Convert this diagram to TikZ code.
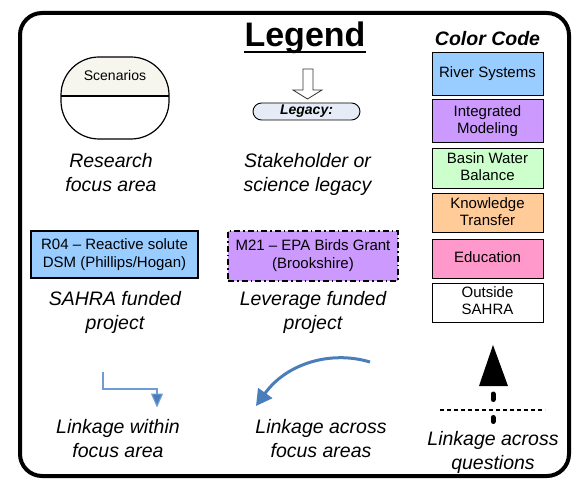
\documentclass[tikz,border=0pt]{standalone}
\usepackage{fontspec}
\setmainfont{Liberation Sans}
\usetikzlibrary{arrows.meta}

\definecolor{riverc}{HTML}{99CCFF}
\definecolor{modelc}{HTML}{CC99FF}
\definecolor{basinc}{HTML}{CCFFCC}
\definecolor{knowc}{HTML}{FFCC99}
\definecolor{educc}{HTML}{FF99CC}
\definecolor{scentop}{HTML}{F6F6EE}
\definecolor{legacyc}{HTML}{E6ECF7}
\definecolor{linkblue}{HTML}{4A7EBB}
\definecolor{linkthin}{HTML}{6F9BD6}

\tikzset{
  caption/.style={inner sep=0pt, align=center, font=\fontsize{19.5}{24}\selectfont\itshape},
  codebox/.style={draw=black, line width=1pt, minimum width=111pt, inner sep=0pt,
                  align=center, font=\fontsize{15}{17}\selectfont},
  projbox/.style={line width=1.2pt, inner sep=0pt, align=center,
                  font=\fontsize{15}{18}\selectfont},
}

\begin{document}
\begin{tikzpicture}[x=1pt,y=-1pt]
\useasboundingbox (0,0) rectangle (584,481);

% outer frame
\draw[line width=4pt, rounded corners=22pt] (20,13) rectangle (569,476);

% title
\node[inner sep=0pt, anchor=base, font=\fontsize{34}{40}\selectfont\bfseries] (legend) at (305,47) {Legend};
\draw[line width=2.4pt] ([yshift=-5pt]legend.base west) -- ([yshift=-5pt]legend.base east);

% research focus area symbol
\begin{scope}
  \clip[rounded corners=38pt] (61,57) rectangle (169,139);
  \fill[scentop] (61,57) rectangle (169,96);
\end{scope}
\draw[line width=1.2pt, rounded corners=38pt] (61,57) rectangle (169,139);
\draw[line width=1.2pt] (61,96) -- (169,96);
\node[inner sep=0pt, anchor=base, font=\fontsize{14}{16}\selectfont] (scen) at (115,81) {Scenarios};
\node[caption] (research) at (111,175.2) {\strut Research\\\strut focus area};

% legacy symbol
\draw[line width=0.8pt, draw=black!80, fill=white]
  (303,69) -- (313,69) -- (313,90) -- (322,90) -- (307.5,99) -- (293,90) -- (303,90) -- cycle;
\node[draw=black, line width=0.9pt, fill=legacyc, rounded corners=8.5pt, minimum width=107pt,
      minimum height=17pt, inner sep=0pt, font=\fontsize{14}{16}\selectfont\bfseries\itshape]
      (legacy) at (306.5,111.5) {Legacy:};
\node[caption] (stake) at (307.5,174.7) {\strut Stakeholder or\\\strut science legacy};

% color code
\node[inner sep=0pt, anchor=base, font=\fontsize{19.5}{22}\selectfont\bfseries\itshape] (cc) at (487.5,46) {Color Code};
\node[codebox, fill=riverc, minimum height=43pt] (river) at (487.5,74.5) {\strut River Systems};
\node[codebox, fill=modelc, minimum height=43pt] (model) at (487.5,121.5) {\strut Integrated\\\strut Modeling};
\node[codebox, fill=basinc, minimum height=40pt] (basin) at (487.5,169) {\strut Basin Water\\\strut Balance};
\node[codebox, fill=knowc, minimum height=39pt] (know) at (487.5,213.5) {\strut Knowledge\\\strut Transfer};
\node[codebox, fill=educc, minimum height=39pt] (educ) at (487.5,259.5) {\strut Education};
\node[codebox, fill=white, minimum height=38pt] (outside) at (487.5,303) {\strut Outside\\\strut SAHRA};

% project boxes
\node[projbox, draw=black, fill=riverc, minimum width=167pt, minimum height=47pt] (r04) at (114.5,254.5)
  {\strut R04 -- Reactive solute\\\strut DSM (Phillips/Hogan)};
\node[caption] (sahra) at (115,312.2) {\strut SAHRA funded\\\strut project};

\node[projbox, draw=black, fill=modelc, dash pattern=on 6pt off 3pt on 1.5pt off 3pt,
      minimum width=170pt, minimum height=50pt] (m21) at (313,256)
  {\strut M21 -- EPA Birds Grant\\\strut (Brookshire)};
\node[caption] (leverage) at (313,312.2) {\strut Leverage funded\\\strut project};

% linkage within focus area
\coordinate (wa) at (103,372);
\coordinate (wb) at (157,407.5);
\draw[draw=linkthin, line width=1.2pt, -{Triangle[length=14pt,width=12pt,fill=linkblue]}]
  (wa) |- (157,389) -- (wb);
\node[caption] (within) at (118,440.2) {\strut Linkage within\\\strut focus area};

% linkage across focus areas
\coordinate (xa) at (370,362);
\coordinate (xb) at (256,406);
\draw[draw=linkblue, line width=3pt, -{Triangle[length=16pt,width=17pt]}]
  (xa) .. controls (330,350) and (286,364) .. (xb);
\node[caption] (across) at (321,440.2) {\strut Linkage across\\\strut focus areas};

% linkage across questions
\coordinate (qa) at (493,345);
\fill[black] (qa) -- (508,386) -- (479,386) -- cycle;
\draw[line width=5pt, line cap=round] (493,394) -- (493,399.5);
\draw[line width=5pt, line cap=round] (493,417.5) -- (493,421.5);
\draw[line width=1.8pt, dash pattern=on 4pt off 3pt] (440,410) -- (545,410);
\node[caption] (questions) at (493,452.2) {\strut Linkage across\\\strut questions};

\end{tikzpicture}
\end{document}
